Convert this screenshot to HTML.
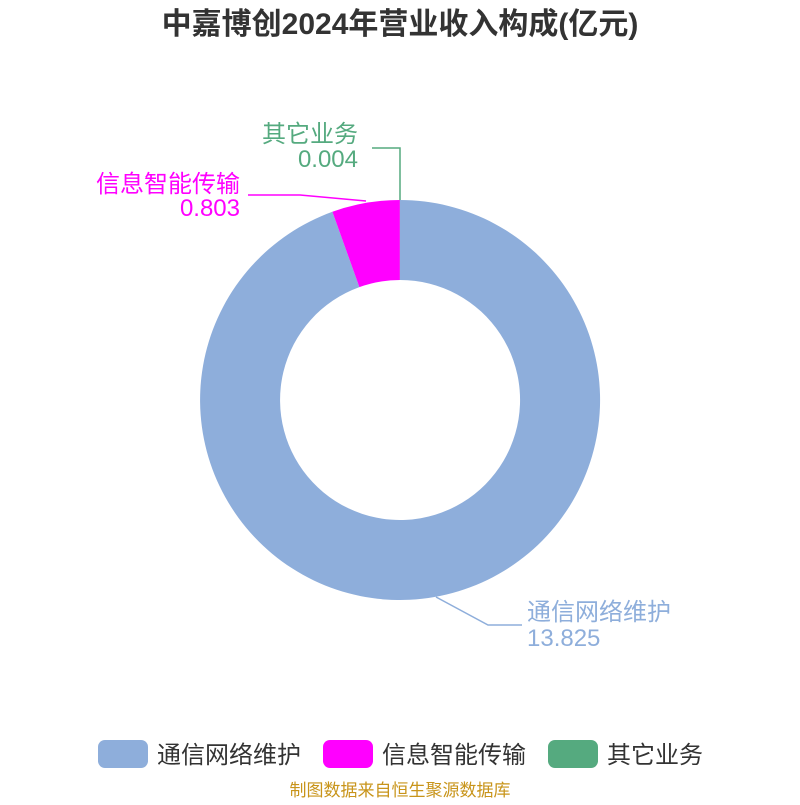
<!DOCTYPE html>
<html><head><meta charset="utf-8"><style>
body{margin:0;width:800px;height:800px;background:#fff;overflow:hidden}
svg text{font-family:"Liberation Sans","Noto Sans CJK SC",sans-serif}
</style></head><body>
<svg width="800" height="800" viewBox="0 0 800 800">
<text x="400" y="34" text-anchor="middle" font-size="30" font-weight="bold" fill="#333">中嘉博创2024年营业收入构成(亿元)</text>
<path d="M400,200 A200,200 0 1 1 332.4,211.8 L359.4,287.1 A120,120 0 1 0 400,280 Z" fill="#8eaedb"/>
<path d="M332.4,211.8 A200,200 0 0 1 399.9,200 L399.9,280 A120,120 0 0 0 359.4,287.1 Z" fill="#ff00ff"/>
<path d="M399.9,200 L400,200 L400,280 L399.9,280 Z" fill="#55aa7f"/>
<polyline points="400,200 400,148 372,148" fill="none" stroke="#55aa7f" stroke-width="1.5"/>
<polyline points="366,201 300,195 248,195" fill="none" stroke="#ff00ff" stroke-width="1.5"/>
<polyline points="436,597 488,625 522,625" fill="none" stroke="#8eaedb" stroke-width="1.5"/>
<text x="358" y="142" text-anchor="end" font-size="24" fill="#55aa7f">其它业务</text>
<text x="358" y="167" text-anchor="end" font-size="24" fill="#55aa7f">0.004</text>
<text x="240" y="192" text-anchor="end" font-size="24" fill="#ff00ff">信息智能传输</text>
<text x="240" y="216" text-anchor="end" font-size="24" fill="#ff00ff">0.803</text>
<text x="527" y="620" font-size="24" fill="#8eaedb">通信网络维护</text>
<text x="527" y="646" font-size="24" fill="#8eaedb">13.825</text>
<rect x="98" y="740" width="50" height="28" rx="7" fill="#8eaedb"/>
<text x="157" y="763" font-size="24" fill="#333">通信网络维护</text>
<rect x="323" y="740" width="50" height="28" rx="7" fill="#ff00ff"/>
<text x="382" y="763" font-size="24" fill="#333">信息智能传输</text>
<rect x="548" y="740" width="50" height="28" rx="7" fill="#55aa7f"/>
<text x="607" y="763" font-size="24" fill="#333">其它业务</text>
<text x="400" y="796" text-anchor="middle" font-size="17" fill="#c8941a">制图数据来自恒生聚源数据库</text>
</svg>
</body></html>
